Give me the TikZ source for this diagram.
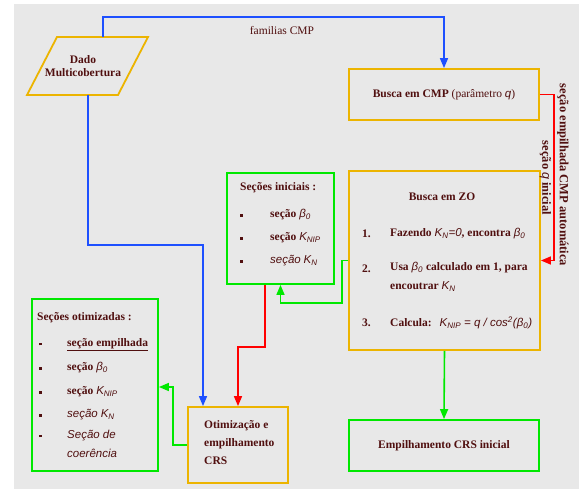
\documentclass[tikz,border=0pt]{standalone}
\usepackage{fontspec}
\setmainfont{Liberation Serif}
\newfontfamily\ita{Liberation Sans}
\usetikzlibrary{arrows.meta,calc}
\definecolor{bg}{RGB}{232,232,232}
\definecolor{gold}{RGB}{236,180,0}
\definecolor{grn}{RGB}{0,232,0}
\definecolor{blu}{RGB}{30,80,255}
\definecolor{rd}{RGB}{255,0,0}
\definecolor{txt}{RGB}{80,15,15}
\newcommand{\mi}[1]{{\ita\mdseries\itshape #1}}
\newcommand{\mv}[2]{\mi{#1}\textsubscript{\mi{#2}}}
\newcommand{\bul}{\rule[0.25ex]{2.4pt}{2.4pt}}
\tikzset{
  goldbox/.style={draw=gold, line width=1.8pt, rectangle, inner sep=0pt},
  grnbox/.style={draw=grn, line width=1.8pt, rectangle, inner sep=0pt},
  lbl/.style={inner sep=0pt, text=txt, font=\fontsize{11.5}{13.5}\selectfont},
  blbl/.style={lbl, font=\fontsize{11.5}{13.5}\selectfont\bfseries},
  vlbl/.style={lbl, rotate=-90, font=\fontsize{12.5}{15}\selectfont\bfseries},
  conn/.style={line width=1.6pt, -{Triangle[length=10pt,width=8pt]}},
}
\begin{document}
\begin{tikzpicture}[x=1pt,y=-1pt]
\useasboundingbox (0,0) rectangle (579,489);
\fill[bg] (14,4) rectangle (579,489);

% parallelogram
\draw[gold, line width=1.8pt] (57,37) -- (148,37) -- (118,95) -- (27,95) -- cycle;
\node[blbl, align=center] (dado) at (83,66) {Dado\\Multicobertura};
\coordinate (dtop) at (103,37);
\coordinate (dbot) at (88,95);

% boxes
\node[goldbox, minimum width=190pt, minimum height=51pt] (cmp) at (444,94.5) {};
\node[lbl] (cmpt) at (444,95) {\bfseries Busca em CMP \mdseries(parâmetro \mi{q})};

\node[goldbox, minimum width=191pt, minimum height=179pt] (zo) at (444.5,260.5) {};
\node[grnbox, minimum width=107pt, minimum height=111pt] (ini) at (280.5,228.5) {};
\node[goldbox, minimum width=100pt, minimum height=76pt] (opt) at (238,445) {};
\node[grnbox, minimum width=126pt, minimum height=172pt] (otz) at (95,385) {};
\node[grnbox, minimum width=190pt, minimum height=51pt] (emp) at (444,445.5) {};
\node[blbl] (empt) at (444,446) {Empilhamento CRS inicial};

% Busca em ZO contents
\node[blbl] (zot) at (442,197) {Busca em ZO};
\node[blbl, anchor=west] (n1) at (362,234) {1.};
\node[blbl, anchor=west] (t1) at (390,234) {Fazendo \mv{K}{N}\mi{=0}, encontra \mv{β}{0}};
\node[blbl, anchor=west] (n2) at (362,269) {2.};
\node[blbl, anchor=north west, align=left, font=\fontsize{11.5}{19}\selectfont\bfseries] (t2) at (390,262) {Usa \mv{β}{0} calculado em 1, para\\encoutrar \mv{K}{N}};
\node[blbl, anchor=west] (n3) at (362,323) {3.};
\node[blbl, anchor=west] (t3) at (390,323) {Calcula:\hspace{8pt}\mv{K}{NIP} \mi{= q / cos\textsuperscript{2}(}\mv{β}{0}\mi{)}};

% Seções iniciais contents
\node[blbl, anchor=west] (init) at (240,188) {Seções iniciais :};
\node[blbl, anchor=west] (i1) at (240,215) {\makebox[30pt][l]{\bul}seção \mv{β}{0}};
\node[blbl, anchor=west] (i2) at (240,238) {\makebox[30pt][l]{\bul}seção \mv{K}{NIP}};
\node[lbl, anchor=west] (i3) at (240,261) {\makebox[30pt][l]{\bul}\mi{seção} \mv{K}{N}};

% Seções otimizadas contents
\node[blbl, anchor=west] (otzt) at (37,318) {Seções otimizadas :};
\node[blbl, anchor=west] (o1) at (39,345) {\makebox[28pt][l]{\bul}\underline{seção empilhada}};
\node[blbl, anchor=west] (o2) at (39,368) {\makebox[28pt][l]{\bul}seção \mv{β}{0}};
\node[blbl, anchor=west] (o3) at (39,392) {\makebox[28pt][l]{\bul}seção \mv{K}{NIP}};
\node[lbl, anchor=west] (o4) at (39,415) {\makebox[28pt][l]{\bul}\mi{seção} \mv{K}{N}};
\node[lbl, anchor=north west, align=left, font=\fontsize{11.5}{19}\selectfont] (o5) at (39,430) {\makebox[28pt][l]{\bul}\mi{Seção de}\\\hspace*{28pt}\mi{coerência}};

% Otimização contents
\node[blbl, anchor=north west, align=left, font=\fontsize{11.5}{18}\selectfont\bfseries] (optt) at (204,420) {Otimização e\\empilhamento\\CRS};

% connectors
\coordinate (b1) at (103,17);
\draw[conn, blu] (dtop) -- (b1) -| (cmp.north);
\node[lbl] (fam) at (282,31) {familias CMP};

\coordinate (b2) at (203,245);
\draw[conn, blu] (dbot) |- (b2) -- (b2 |- opt.north);

\coordinate (r1) at (554,94.5);
\draw[conn, rd] (cmp.east) -- (r1) |- (zo.east);
\node[vlbl] (lr1) at (563,175) {seção empilhada CMP automática};
\node[vlbl] (lr2) at (545.5,178) {seção \mi{q} inicial};

\coordinate (g1) at (342,303);
\draw[conn, grn] (zo.west) -| (g1) -| (ini.south);

\coordinate (r2) at (265,347);
\draw[conn, rd] (r2 |- ini.south) -- (r2) -| (opt.north);

\coordinate (g2) at (173,387);
\draw[conn, grn] (opt.west) -| (g2) -- (g2 -| otz.east);

\draw[conn, grn] (zo.south) -- (emp.north);
\end{tikzpicture}
\end{document}
